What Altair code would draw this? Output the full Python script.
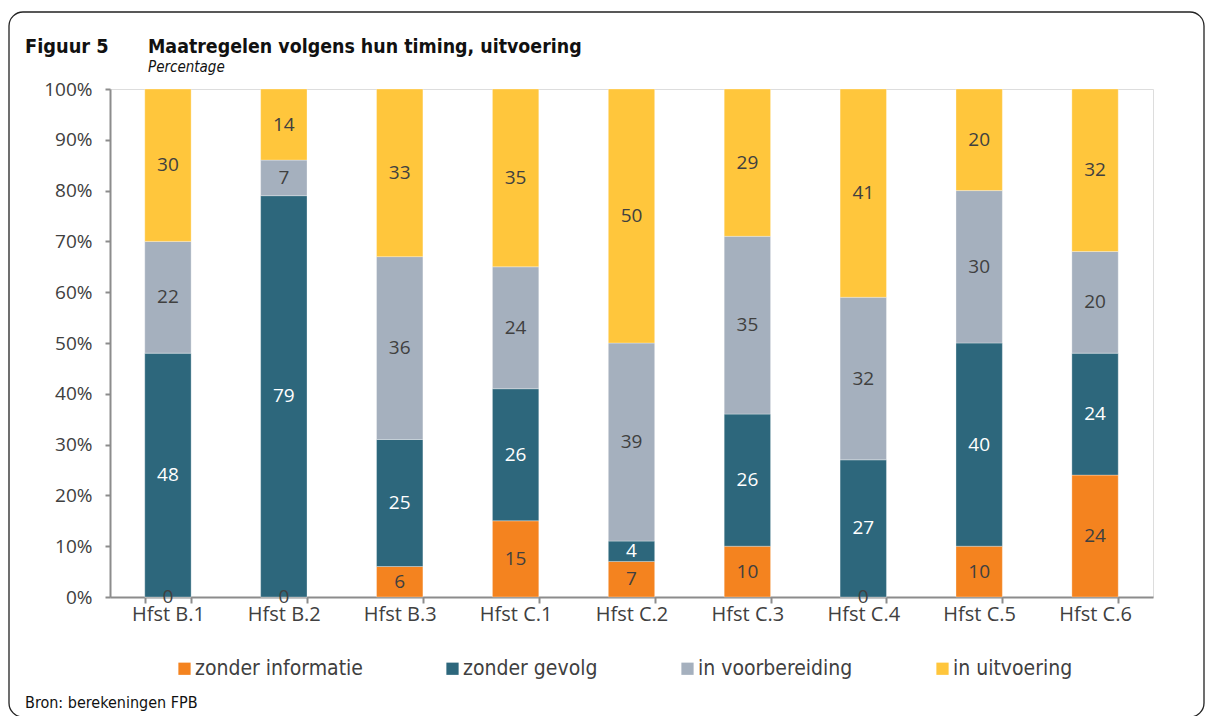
import altair as alt
import pandas as pd

categories = ["Hfst B.1", "Hfst B.2", "Hfst B.3", "Hfst C.1", "Hfst C.2",
              "Hfst C.3", "Hfst C.4", "Hfst C.5", "Hfst C.6"]
series = ["zonder informatie", "zonder gevolg", "in voorbereiding", "in uitvoering"]
zonder_informatie = [0, 0, 6, 15, 7, 10, 0, 10, 24]
zonder_gevolg = [48, 79, 25, 26, 4, 26, 27, 40, 24]
in_voorbereiding = [22, 7, 36, 24, 39, 35, 32, 30, 20]
in_uitvoering = [30, 14, 33, 35, 50, 29, 41, 20, 32]
colors = ["#F4831F", "#2D677C", "#A5B0BE", "#FFC63C"]
label_colors = ["#404040", "#FFFFFF", "#404040", "#404040"]

TFONT = "DejaVu Sans Condensed, DejaVu Sans"
NFONT = "Open Sans, DejaVu Sans"

values = [zonder_informatie, zonder_gevolg, in_voorbereiding, in_uitvoering]
rows = []
for i, cat in enumerate(categories):
    acc = 0
    for j, s in enumerate(series):
        v = values[j][i]
        rows.append({"cat": cat, "series": s, "value": v, "start": acc,
                     "end": acc + v, "mid": acc + v / 2, "order": j,
                     "tcolor": label_colors[j]})
        acc += v
df = pd.DataFrame(rows)

W, H = 1043, 508
axis_col = "#8C8C8C"

x_enc = alt.X("cat:N", sort=categories,
              scale=alt.Scale(paddingInner=0.6, paddingOuter=0.3),
              axis=alt.Axis(title=None, labelAngle=0, tickBand="extent",
                            domainColor=axis_col, tickColor=axis_col,
                            domainWidth=2, tickWidth=2, tickSize=6,
                            labelFontSize=20, labelColor="#404040",
                            labelFont=NFONT, labelPadding=1))
y_scale = alt.Scale(domain=[0, 100], nice=False)

bars = alt.Chart(df).mark_bar(stroke="white", strokeWidth=0.6, strokeOpacity=0.5).encode(
    x=x_enc,
    y=alt.Y("start:Q", scale=y_scale,
            axis=alt.Axis(title=None, values=list(range(0, 101, 10)),
                          labelExpr="datum.value + '%'", grid=False,
                          domainColor=axis_col, tickColor=axis_col,
                          domainWidth=2, tickWidth=2, tickSize=5,
                          labelFontSize=19, labelColor="#404040",
                          labelFont=NFONT, labelPadding=13)),
    y2="end:Q",
    color=alt.Color("series:N", sort=series,
                    scale=alt.Scale(domain=series, range=colors),
                    legend=alt.Legend(title=None, orient="none", direction="horizontal",
                                      legendX=64, legendY=569,
                                      symbolType="square", symbolSize=150,
                                      symbolStrokeWidth=0, labelFontSize=21,
                                      labelFont=TFONT, labelColor="#404040",
                                      labelOffset=0, columnPadding=79,
                                      padding=0, labelLimit=300)),
    order=alt.Order("order:Q"),
)

labels = alt.Chart(df).mark_text(fontSize=19, font=NFONT, baseline="middle").encode(
    x=alt.X("cat:N", sort=categories),
    y=alt.Y("mid:Q", scale=y_scale),
    text=alt.Text("value:Q"),
    color=alt.Color("tcolor:N", scale=None),
)

one = pd.DataFrame({"a": [0]})
frame = alt.Chart(one).mark_rect(filled=False, stroke="#222222", strokeWidth=1.3,
                                 cornerRadius=14).encode(
    x=alt.value(-101), x2=alt.value(1094), y=alt.value(-77), y2=alt.value(628))

fig = alt.Chart(one).mark_text(align="left", baseline="alphabetic", fontSize=19.8,
                               fontWeight="bold", font=TFONT, color="#111111").encode(
    x=alt.value(-85), y=alt.value(-36), text=alt.value("Figuur 5"))

title = alt.Chart(one).mark_text(align="left", baseline="alphabetic", fontSize=19.4,
                                 fontWeight="bold", font=TFONT, color="#111111").encode(
    x=alt.value(38), y=alt.value(-36),
    text=alt.value("Maatregelen volgens hun timing, uitvoering"))

subtitle = alt.Chart(one).mark_text(align="left", baseline="alphabetic", fontSize=15,
                                    fontStyle="italic", font=TFONT, color="#111111").encode(
    x=alt.value(38), y=alt.value(-17), text=alt.value("Percentage"))

source = alt.Chart(one).mark_text(align="left", baseline="alphabetic", fontSize=16,
                                  font=TFONT, color="#111111").encode(
    x=alt.value(-85), y=alt.value(619), text=alt.value("Bron: berekeningen FPB"))

chart = alt.layer(frame, bars, labels, fig, title, subtitle, source).properties(
    width=W, height=H,
    autosize=alt.AutoSizeParams(type="none"),
    padding={"left": 102, "top": 81, "right": 53, "bottom": 119},
).configure_view(stroke=None).configure(background="white")

chart.save("out.html", embed_options={"renderer": "svg", "actions": False})
